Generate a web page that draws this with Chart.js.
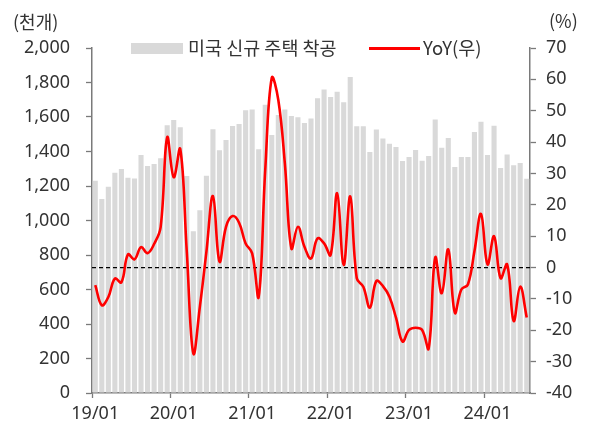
<!DOCTYPE html>
<html>
<head>
<meta charset="utf-8">
<script src="https://cdn.jsdelivr.net/npm/chart.js@4"></script>
<style>
  body { margin: 0; background: #fff; }
  #wrap { position: relative; width: 590px; height: 427px; font-family: 'Noto Sans CJK KR', 'Noto Sans', sans-serif; color: #333; }
  canvas { position: absolute; left: 0; top: 0; }
  .lbl { position: absolute; font-size: 18px; line-height: 20px; white-space: nowrap; }
  .leg { font-size: 18.5px; }
  .box { position: absolute; background: #d9d9d9; }
  .redline { position: absolute; background: #ff0000; }
</style>
</head>
<body>
<div id="wrap">
  <canvas id="myChart" width="590" height="427"></canvas>
  <!-- axis units -->
  <div class="lbl" style="left:13px; top:11px;">(천개)</div>
  <div class="lbl" style="left:549px; top:10px;">(%)</div>
  <!-- legend -->
  <div class="box" style="left:131px; top:43px; width:52px; height:11px;"></div>
  <div class="lbl leg" style="left:188px; top:37px;">미국 신규 주택 착공</div>
  <div class="redline" style="left:369px; top:47px; width:51px; height:3px;"></div>
  <div class="lbl leg" style="left:423px; top:37px;">YoY(우)</div>
</div>
<script>
// months on the x axis (2019/01 - 2024/07)
const months = [
  '19/01','19/02','19/03','19/04','19/05','19/06','19/07','19/08','19/09','19/10','19/11','19/12',
  '20/01','20/02','20/03','20/04','20/05','20/06','20/07','20/08','20/09','20/10','20/11','20/12',
  '21/01','21/02','21/03','21/04','21/05','21/06','21/07','21/08','21/09','21/10','21/11','21/12',
  '22/01','22/02','22/03','22/04','22/05','22/06','22/07','22/08','22/09','22/10','22/11','22/12',
  '23/01','23/02','23/03','23/04','23/05','23/06','23/07','23/08','23/09','23/10','23/11','23/12',
  '24/01','24/02','24/03','24/04','24/05','24/06','24/07'
];
//only these get a label + tick mark
const tickLabels = ['19/01', '20/01', '21/01', '22/01', '23/01', '24/01'];

// housing starts, thousand units (left axis)
const housingStarts = [
  1231, 1125, 1196, 1277, 1299, 1248, 1244, 1380, 1316, 1328, 1361, 1552,
  1583, 1540, 1258, 937, 1059, 1260, 1529, 1407, 1467, 1548, 1559, 1639,
  1643, 1413, 1671, 1496, 1612, 1643, 1606, 1598, 1565, 1592, 1708, 1760,
  1716, 1747, 1685, 1832, 1546, 1546, 1397, 1527, 1476, 1445, 1426, 1345,
  1368, 1409, 1347, 1374, 1586, 1422, 1478, 1310, 1368, 1368, 1513, 1573,
  1380, 1550, 1304, 1382, 1320, 1333, 1242
];

// YoY %, right axis
const yoy = [
  -5.6, -12, -9.4, -3.5, -4.7, 4.2, 2.6, 6.5, 4.6, 7.5, 12.9, 41.5,
  28.8, 37.8, 5, -27.4, -12.5, 5, 22.8, 1.9, 13, 16.4, 14.3, 7.7,
  4.5, -9.3, 31.1, 60.5, 53.4, 33.2, 6.1, 13, 6.6, 2.9, 9.3, 7.7,
  4, 23.7, 0.8, 22.7, -3.4, -6.1, -12.8, -4.3, -5.9, -9.3, -16, -23.6,
  -19.9, -19.2, -19.9, -25.8, 3.2, -8.2, 5.8, -14.4, -7, -5.4, 5.2, 17.1,
  1.0, 10, -3.4, 1.0, -17, -6.1, -15.9
];

const axisColor = '#7a7a7a';

// dashed line at YoY = 0, drawn over the bars but under the red line
const zeroLine = {
  id: 'zeroLine',
  beforeDatasetDraw(chart, args) {
    if (args.index !== 0) return;
    const ctx = chart.ctx;
    const area = chart.chartArea;
    const y = chart.scales.y1.getPixelForValue(0);
    ctx.save();
    ctx.strokeStyle = '#000';
    ctx.lineWidth = 1.2;
    ctx.setLineDash([4, 3]);
    ctx.beginPath();
    ctx.moveTo(area.left, y);
    ctx.lineTo(area.right, y);
    ctx.stroke();
    ctx.restore();
  }
};

Chart.defaults.font.family = "'Noto Sans', 'Noto Sans CJK KR', sans-serif";
Chart.defaults.font.size = 18;
Chart.defaults.color = '#333';

const ctx = document.getElementById('myChart');

new Chart(ctx, {
  type: 'bar',
  data: {
    labels: months,
    datasets: [
      {
        type: 'line',
        label: 'YoY(우)',
        data: yoy,
        yAxisID: 'y1',
        borderColor: '#ff0000',
        borderWidth: 2.6,
        pointRadius: 0,
        tension: 0.4,
        fill: false,
        order: 0
      },
      {
        type: 'bar',
        label: '미국 신규 주택 착공',
        data: housingStarts,
        yAxisID: 'y',
        backgroundColor: '#d9d9d9',
        barPercentage: 0.78,
        categoryPercentage: 1,
        order: 1
      }
    ]
  },
  options: {
    responsive: false,
    devicePixelRatio: 1,
    animation: false,
    layout: { padding: { top: 48, left: 0, right: 0, bottom: 0 } },
    plugins: {
      legend: { display: false },
      tooltip: { enabled: false }
    },
    scales: {
      x: {
        type: 'category',
        offset: true,
        grid: {
          offset: true,
          drawOnChartArea: false,
          tickLength: 5,
          tickWidth: 1.3,
          tickColor: c => (c.index % 12 === 0 ? axisColor : 'rgba(0,0,0,0)')
        },
        border: { color: axisColor, width: 1.5 },
        ticks: {
          autoSkip: false,
          maxRotation: 0,
          padding: 5,
          callback: (v, i) => (tickLabels.includes(months[i]) ? months[i] : '')
        },
        afterFit: s => { s.height = 34; }
      },
      y: {
        position: 'left',
        min: 0,
        max: 2000,
        grid: { drawOnChartArea: false, tickLength: 6, tickColor: axisColor, tickWidth: 1.3 },
        border: { color: axisColor, width: 1.5 },
        ticks: {
          stepSize: 200,
          padding: 16,
          callback: v => v.toLocaleString('en-US')
        },
        afterFit: s => { s.width = 92; }
      },
      y1: {
        position: 'right',
        min: -40,
        max: 70,
        grid: { drawOnChartArea: false, tickLength: 6, tickColor: axisColor, tickWidth: 1.3 },
        border: { color: axisColor, width: 1.5 },
        ticks: { stepSize: 10, padding: 10 },
        afterFit: s => { s.width = 60; }
      }
    }
  },
  plugins: [zeroLine]
});
</script>
</body>
</html>
